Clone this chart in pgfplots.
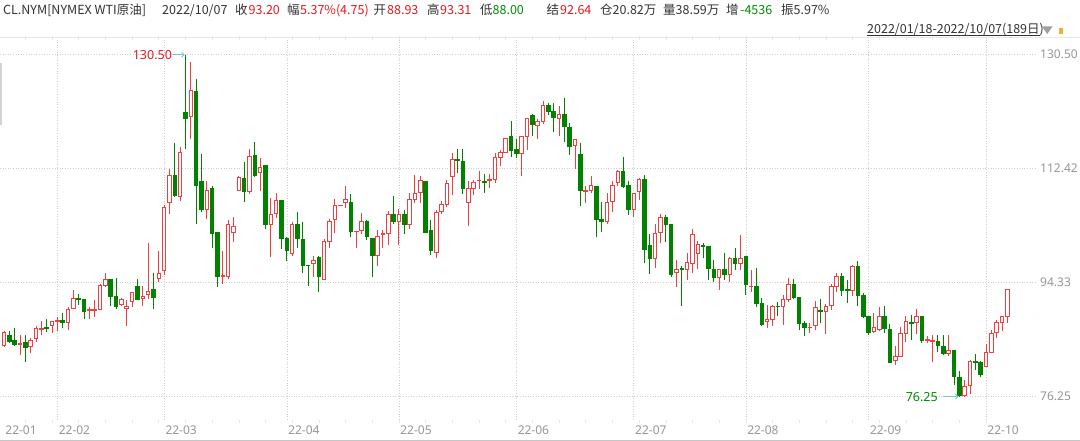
\documentclass[border=0pt]{standalone}
\usepackage{fontspec}
\setmainfont{Noto Sans}
\newfontfamily\cjk{Noto Sans CJK SC}
\usepackage{pgfplots}
\pgfplotsset{compat=1.18}
\usepackage{pgfplotstable}
\usepgfplotslibrary{statistics}
\usetikzlibrary{arrows.meta}
\definecolor{upc}{RGB}{242,62,62}
\definecolor{dnc}{RGB}{0,130,0}
\definecolor{gridc}{RGB}{205,205,205}
\definecolor{framec}{RGB}{232,232,232}
\definecolor{tickc}{RGB}{150,150,150}
\definecolor{txtc}{RGB}{51,51,51}
\definecolor{redt}{RGB}{228,24,30}
\definecolor{greent}{RGB}{0,140,0}
\definecolor{arrowc}{RGB}{120,192,226}
\definecolor{orangec}{RGB}{245,175,40}

\pgfplotstableread{
i o h l c
0 84.3 86.7 84.2 86.5
1 85.9 86.7 84.9 85.0
2 85.1 87.1 84.3 84.5
3 84.5 86.0 82.9 84.7
4 84.8 86.0 81.8 84.1
5 84.2 85.6 83.1 85.2
6 85.4 87.4 85.0 87.1
7 86.9 88.2 86.1 87.0
8 87.2 88.5 86.5 87.0
9 87.5 88.3 86.4 88.1
10 88.2 88.9 86.6 88.3
11 88.3 89.6 87.2 88.0
12 88.0 90.5 86.8 90.1
13 90.3 93.2 90.1 91.8
14 91.8 92.6 90.8 91.6
15 91.6 91.6 88.5 89.8
16 89.9 90.5 88.5 90.0
17 89.9 91.6 88.9 90.0
18 90.1 94.1 90.0 93.9
19 93.9 95.9 93.7 94.8
20 94.8 94.9 90.6 92.1
21 92.2 95.0 90.1 90.6
22 90.9 91.9 90.6 91.7
23 90.2 91.6 87.5 90.5
24 91.3 92.9 90.4 92.8
25 93.8 94.9 91.6 91.6
26 91.8 93.8 90.7 92.2
27 92.5 100.6 91.7 93.0
28 93.3 95.8 90.1 92.0
29 95.0 99.3 94.5 95.8
30 96.2 106.6 95.6 106.3
31 107.1 112.4 105.2 111.4
32 111.3 116.5 108.0 108.1
33 108.0 115.9 107.3 115.0
34 121.4 130.5 115.6 120.4
35 120.7 129.4 117.1 124.8
36 124.6 126.7 103.7 109.7
37 110.4 114.8 105.6 105.9
38 106.0 110.4 104.5 109.0
39 109.3 109.7 99.8 102.2
40 102.3 102.4 93.6 95.3
41 95.3 99.3 94.2 95.4
42 95.3 104.3 94.9 103.6
43 102.3 104.7 100.8 103.2
44 109.0 111.2 109.0 111.0
45 110.9 113.4 107.1 108.8
46 108.8 115.5 108.4 114.3
47 114.5 116.6 111.1 111.3
48 111.8 114.1 108.8 112.6
49 112.9 112.9 102.8 103.5
50 103.6 107.8 98.4 105.2
51 105.3 108.6 104.6 107.4
52 107.4 107.5 99.6 101.3
53 101.3 101.6 97.8 99.4
54 99.0 103.9 98.6 103.6
55 103.6 105.6 99.9 101.4
56 101.2 104.0 95.8 97.0
57 97.1 97.1 93.8 97.0
58 97.3 98.6 95.3 97.8
59 98.4 98.6 92.9 95.3
60 94.9 101.2 94.8 100.9
61 100.9 104.5 99.9 104.1
62 104.3 107.6 102.2 106.5
63 106.5 106.6 106.5 106.6
64 107.1 109.7 106.1 107.6
65 107.1 108.4 101.5 102.4
66 102.4 102.5 99.9 102.5
67 102.6 105.4 102.0 104.0
68 104.0 104.3 101.1 101.7
69 101.3 101.3 95.3 98.7
70 98.7 102.7 97.0 101.6
71 101.9 102.7 99.8 102.1
72 102.2 105.7 100.3 105.2
73 105.2 108.1 103.7 104.1
74 104.0 106.0 100.3 105.1
75 105.1 105.9 102.0 103.6
76 103.5 108.6 102.8 107.6
77 107.6 111.4 106.9 108.5
78 108.7 111.2 106.9 110.6
79 110.4 110.5 102.2 102.3
80 102.6 104.2 98.7 99.4
81 99.1 105.9 98.2 105.5
82 105.7 107.3 105.3 106.7
83 106.7 110.6 106.4 110.1
84 111.1 114.9 108.2 113.9
85 113.9 115.5 111.8 113.7
86 113.6 115.5 108.4 109.3
87 107.0 110.4 103.3 109.3
88 109.3 110.6 108.2 110.3
89 110.5 112.0 109.2 110.6
90 110.4 111.5 108.6 110.3
91 110.5 111.5 109.3 110.7
92 110.7 114.9 110.2 114.2
93 114.2 115.4 112.9 115.0
94 115.0 117.3 114.9 117.2
95 117.5 120.0 114.2 115.3
96 115.4 117.1 114.1 114.9
97 114.9 117.6 111.3 117.5
98 117.6 120.4 115.4 120.3
99 120.8 121.1 117.6 119.5
100 119.2 120.3 117.1 119.9
101 119.9 123.2 119.5 122.4
102 122.4 122.9 120.9 121.5
103 121.5 122.8 118.3 120.5
104 120.3 122.4 117.6 121.0
105 121.0 123.7 116.7 119.1
106 119.0 119.6 114.6 115.9
107 116.1 117.2 112.3 117.1
108 114.7 116.5 106.5 108.9
109 108.8 109.6 106.9 108.9
110 109.0 111.3 108.6 109.7
111 109.6 109.6 101.5 104.3
112 104.4 107.1 102.3 104.0
113 104.0 108.5 103.6 107.1
114 107.2 110.5 105.6 109.8
115 110.2 112.2 109.6 111.9
116 111.9 114.2 109.3 109.6
117 109.7 110.4 105.1 106.0
118 106.0 108.5 104.7 108.5
119 108.8 110.9 107.5 110.7
120 110.7 111.4 97.4 99.6
121 100.3 102.1 95.7 98.1
122 98.2 103.6 96.6 102.2
123 102.3 105.2 100.7 104.7
124 104.7 105.1 100.8 103.6
125 103.5 103.5 95.3 95.7
126 96.0 97.9 93.7 96.4
127 96.6 96.9 90.6 96.5
128 96.5 99.0 94.7 97.5
129 97.3 102.8 95.9 102.0
130 98.9 100.9 96.5 100.4
131 100.3 100.7 98.2 100.0
132 100.0 100.1 94.7 96.6
133 96.5 97.9 94.4 95.2
134 95.2 96.5 93.1 96.5
135 96.4 99.0 94.8 95.7
136 95.7 98.4 94.4 98.1
137 98.1 99.9 96.4 97.4
138 97.3 101.9 96.4 98.2
139 98.5 98.5 92.4 94.1
140 93.7 96.3 92.8 93.8
141 93.8 96.6 90.5 91.0
142 91.0 91.9 87.5 87.7
143 88.2 90.8 87.1 88.5
144 88.5 90.8 87.4 90.5
145 90.6 91.2 89.1 90.5
146 90.5 92.4 87.6 91.6
147 91.6 95.0 91.3 94.0
148 94.1 94.9 91.7 92.0
149 92.0 92.0 86.9 87.9
150 87.9 88.2 85.8 87.3
151 87.2 87.9 86.4 87.3
152 87.5 91.5 86.8 90.4
153 89.9 91.7 88.0 89.8
154 89.8 90.9 86.2 90.6
155 90.7 94.2 90.0 93.7
156 93.8 95.8 92.9 95.3
157 95.3 95.8 92.2 93.1
158 93.2 94.8 91.1 93.1
159 93.1 97.1 92.2 96.9
160 96.9 97.7 90.6 92.3
161 92.3 92.7 88.7 89.0
162 88.9 89.0 86.1 86.4
163 86.6 89.6 86.3 87.3
164 86.9 90.5 86.8 88.9
165 89.0 90.6 86.3 87.1
166 86.9 87.7 81.7 81.7
167 82.0 84.3 81.3 82.7
168 82.7 87.3 82.7 86.2
169 86.3 89.1 85.0 88.1
170 88.0 89.2 85.2 87.8
171 88.0 90.2 86.2 89.0
172 89.0 89.1 84.8 85.2
173 85.2 85.9 84.7 85.3
174 85.0 86.0 81.8 85.1
175 85.0 86.0 83.4 84.3
176 84.2 86.0 82.9 83.1
177 83.1 86.0 82.7 83.5
178 83.5 83.5 78.1 79.5
179 79.3 80.3 76.25 76.4
180 76.4 78.9 76.3 77.8
181 78.1 82.1 76.7 81.8
182 81.8 83.0 80.5 81.7
183 81.7 81.9 79.3 79.8
184 81.0 84.6 81.0 83.3
185 83.3 86.8 83.3 86.3
186 86.4 88.4 85.5 88.0
187 88.0 89.05 86.6 88.9
188 88.93 93.31 88.00 93.20
}\ohlc
\pgfplotstablegetrowsof{\ohlc}
\pgfmathtruncatemacro\N{\pgfplotsretval-1}

\begin{document}
\begin{tikzpicture}[x=1pt,y=1pt]
\useasboundingbox (0pt,0pt) rectangle (1080pt,441pt);
\fill[white] (0pt,0pt) rectangle (1080pt,441pt);
% frame lines
\draw[framec, line width=0.8pt] (0pt,403.3pt) -- (1080pt,403.3pt);
\draw[gray!45, line width=0.8pt] (0pt,1pt) -- (1080pt,1pt);
\fill[gray!35] (0pt,316pt) rectangle (1.6pt,378pt);
% header
\begin{scope}[every node/.style={anchor=base west, inner sep=0pt, font=\cjk\fontsize{12.5}{14}\selectfont}]
\node[text=txtc] at (3pt,426.5pt) {CL.NYM[NYMEX WTI原油]};
\node[text=txtc] at (162pt,426.5pt) {2022/10/07};
\node[text=txtc] at (235pt,426.5pt) {收};
\node[text=redt] at (248.5pt,426.5pt) {93.20};
\node[text=txtc] at (287pt,426.5pt) {幅};
\node[text=redt] at (300pt,426.5pt) {5.37\%(4.75)};
\node[text=txtc] at (373.5pt,426.5pt) {开};
\node[text=redt] at (387pt,426.5pt) {88.93};
\node[text=txtc] at (427pt,426.5pt) {高};
\node[text=redt] at (440pt,426.5pt) {93.31};
\node[text=txtc] at (480pt,426.5pt) {低};
\node[text=greent] at (492.5pt,426.5pt) {88.00};
\node[text=txtc] at (546.5pt,426.5pt) {结};
\node[text=redt] at (560pt,426.5pt) {92.64};
\node[text=txtc] at (600pt,426.5pt) {仓20.82万};
\node[text=txtc] at (663pt,426.5pt) {量38.59万};
\node[text=txtc] at (726pt,426.5pt) {增};
\node[text=greent] at (740pt,426.5pt) {-4536};
\node[text=txtc] at (781pt,426.5pt) {振5.97\%};
\node[text=txtc] at (867pt,407.7pt) {2022/01/18-2022/10/07(189日)};
\end{scope}
\draw[txtc, line width=0.6pt] (867pt,405.3pt) -- (1040pt,405.3pt);
\fill[gray!75] (1042pt,414.5pt) -- (1052.5pt,414.5pt) -- (1047.25pt,407pt) -- cycle;
\fill[orangec] (1058.5pt,406.5pt) rectangle (1063pt,412.5pt);
\begin{axis}[
  at={(0pt,401pt)}, anchor=north west,
  width=1037pt, height=380pt, scale only axis,
  xmin=-0.75, xmax=193.55, ymin=72.55, ymax=132.83,
  axis line style={draw=none},
  /pgf/number format/assume math mode=true,
  ytick={76.25,94.33,112.42,130.50},
  yticklabels={76.25,94.33,112.42,130.50},
  yticklabel pos=right,
  ymajorgrids,
  grid style={gridc, line width=0.6pt, dash pattern=on 1pt off 1.6pt},
  ytick style={draw=none},
  yticklabel style={anchor=west, inner sep=0pt, xshift=3pt, text=tickc, font=\fontsize{12}{12}\selectfont},
  xtick={0,10,30,53,74,96,118,139,162,184},
  xticklabels={22-01,22-02,22-03,22-04,22-05,22-06,22-07,22-08,22-09,22-10},
  xticklabel style={anchor=north west, inner sep=0pt, xshift=1.2pt, yshift=-6pt, text=tickc, font=\fontsize{12}{12}\selectfont},
  major tick length=0pt,
  minor xtick={4,9,...,184},
  minor tick length=3.5pt,
  tick align=outside,
  minor x tick style={framec, line width=0.6pt},
  extra x ticks={10,30,53,74,96,118,139,162,184},
  extra x tick labels={},
  extra x tick style={grid=major, major tick length=0pt},
  boxplot/draw direction=y,
  boxplot/box extend=0.66,
  boxplot/whisker extend=0,
]
\draw[framec, line width=0.8pt] (rel axis cs:0,0) -- (rel axis cs:1,0);
\draw[framec, line width=0.8pt] (rel axis cs:1,0) -- (rel axis cs:1,1);
\pgfplotsinvokeforeach{0,...,\N}{
  \pgfplotstablegetelem{#1}{o}\of\ohlc \let\vo\pgfplotsretval
  \pgfplotstablegetelem{#1}{h}\of\ohlc \let\vh\pgfplotsretval
  \pgfplotstablegetelem{#1}{l}\of\ohlc \let\vl\pgfplotsretval
  \pgfplotstablegetelem{#1}{c}\of\ohlc \let\vc\pgfplotsretval
  \ifdim\vc pt<\vo pt
    \edef\cmd{\noexpand\addplot[draw=dnc, fill=dnc, line width=1pt, boxplot prepared={draw position=#1, lower whisker=\vl, lower quartile=\vc, median=\vc, upper quartile=\vo, upper whisker=\vh}] coordinates {};}
  \else
    \edef\cmd{\noexpand\addplot[draw=upc, fill=white, line width=1pt, boxplot prepared={draw position=#1, lower whisker=\vl, lower quartile=\vo, median=\vo, upper quartile=\vc, upper whisker=\vh}] coordinates {};}
  \fi
  \cmd
}
\draw[arrowc, line width=0.8pt, -{Straight Barb[length=2.5pt,width=5pt]}] (axis cs:31.65,130.5) -- (axis cs:33.85,130.5);
\node[anchor=east, inner sep=0pt, text=redt, font=\fontsize{12.5}{12}\selectfont] at (axis cs:31.5,130.5) {130.50};
\draw[arrowc, line width=0.8pt, -{Straight Barb[length=2.5pt,width=5pt]}] (axis cs:176.0,76.25) -- (axis cs:178.85,76.25);
\node[anchor=east, inner sep=0pt, text=greent, font=\fontsize{12.5}{12}\selectfont] at (axis cs:175.0,76.25) {76.25};
\end{axis}
\end{tikzpicture}
\end{document}
